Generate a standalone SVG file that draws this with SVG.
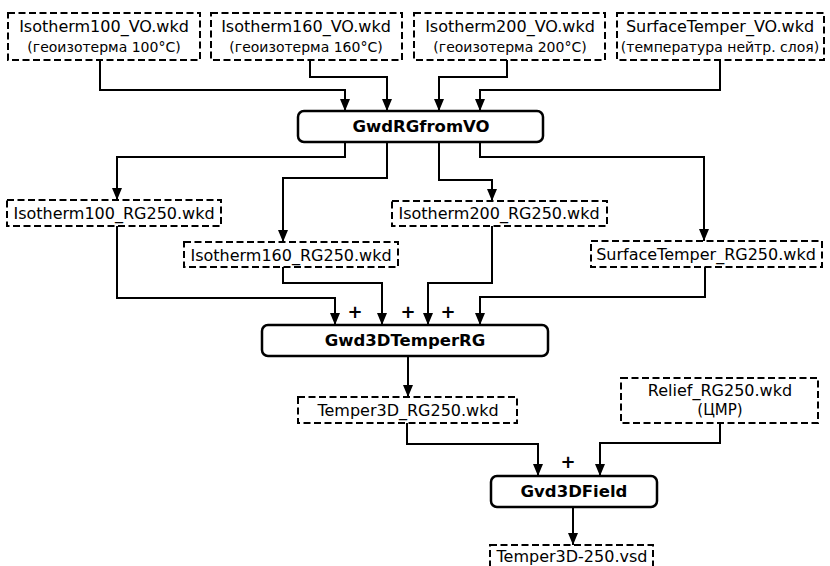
<svg xmlns="http://www.w3.org/2000/svg" width="830" height="566" viewBox="0 0 830 566">
  <style>
    .file { fill: #fff; stroke: #000; stroke-width: 2; stroke-dasharray: 7 3.5; }
    .proc { fill: #fff; stroke: #000; stroke-width: 2.5; }
    .t { font-family: "DejaVu Sans", Verdana, sans-serif; font-size: 16px; fill: #000; text-anchor: middle; }
    .s { font-family: "DejaVu Sans", Verdana, sans-serif; font-size: 14px; fill: #000; text-anchor: middle; }
    .b { font-family: "DejaVu Sans", Verdana, sans-serif; font-size: 16.5px; font-weight: bold; fill: #000; text-anchor: middle; }
    .plus { font-family: "DejaVu Sans", Verdana, sans-serif; font-size: 18px; font-weight: bold; fill: #000; text-anchor: middle; }
    .wire { fill: none; stroke: #000; stroke-width: 2; marker-end: url(#arrow); }
  </style>
  <defs>
    <marker id="arrow" markerUnits="userSpaceOnUse" markerWidth="12" markerHeight="10" refX="12" refY="5" orient="auto">
      <path d="M0,0 L12,5 L0,10 z" fill="#000"/>
    </marker>
  </defs>

  <!-- source grids (VO) -->
  <g id="iso100-vo">
    <rect class="file" x="8" y="13" width="192" height="47"/>
    <text class="t" x="104" y="32">Isotherm100_VO.wkd</text>
    <text class="s" x="104" y="52">(геоизотерма 100°C)</text>
  </g>
  <g id="iso160-vo">
    <rect class="file" x="211" y="13" width="191" height="47"/>
    <text class="t" x="306" y="32">Isotherm160_VO.wkd</text>
    <text class="s" x="306" y="52">(геоизотерма 160°C)</text>
  </g>
  <g id="iso200-vo">
    <rect class="file" x="414" y="13" width="191" height="47"/>
    <text class="t" x="510" y="32">Isotherm200_VO.wkd</text>
    <text class="s" x="510" y="52">(геоизотерма 200°C)</text>
  </g>
  <g id="surf-vo">
    <rect class="file" x="617" y="13" width="207" height="47"/>
    <text class="t" x="720" y="32">SurfaceTemper_VO.wkd</text>
    <text class="s" x="720" y="52">(температура нейтр. слоя)</text>
  </g>

  <!-- regridding step -->
  <g id="gwdrgfromvo">
    <rect class="proc" x="298" y="111" width="245" height="31" rx="6"/>
    <text class="b" x="421" y="132">GwdRGfromVO</text>
  </g>

  <!-- regridded grids (RG250) -->
  <g id="iso100-rg">
    <rect class="file" x="7" y="200" width="214" height="26"/>
    <text class="t" x="114" y="219">Isotherm100_RG250.wkd</text>
  </g>
  <g id="iso160-rg">
    <rect class="file" x="184" y="242" width="214" height="25"/>
    <text class="t" x="291" y="261">Isotherm160_RG250.wkd</text>
  </g>
  <g id="iso200-rg">
    <rect class="file" x="392" y="201" width="215" height="25"/>
    <text class="t" x="499" y="219">Isotherm200_RG250.wkd</text>
  </g>
  <g id="surf-rg">
    <rect class="file" x="591" y="241" width="231" height="26"/>
    <text class="t" x="706" y="260">SurfaceTemper_RG250.wkd</text>
  </g>

  <!-- 3D temperature model -->
  <g id="gwd3dtemperrg">
    <rect class="proc" x="262" y="325" width="286" height="31" rx="6"/>
    <text class="b" x="405" y="346">Gwd3DTemperRG</text>
  </g>
  <g id="temper3d-rg">
    <rect class="file" x="298" y="397" width="219" height="26"/>
    <text class="t" x="408" y="416">Temper3D_RG250.wkd</text>
  </g>
  <g id="relief-rg">
    <rect class="file" x="621" y="378" width="197" height="45"/>
    <text class="t" x="720" y="396">Relief_RG250.wkd</text>
    <text class="t" x="720" y="415" style="font-size:15px">(ЦМР)</text>
  </g>

  <!-- 3D field -->
  <g id="gvd3dfield">
    <rect class="proc" x="491" y="476" width="166" height="31" rx="6"/>
    <text class="b" x="574" y="497">Gvd3DField</text>
  </g>
  <g id="temper3d-vsd">
    <rect class="file" x="490" y="545" width="163" height="32"/>
    <text class="t" x="572" y="562">Temper3D-250.vsd</text>
  </g>

  <!-- connectors -->
  <g id="connectors">
    <path class="wire" d="M100,60 V90 H345 V111"/>
    <path class="wire" d="M310,60 V77 H387 V111"/>
    <path class="wire" d="M507,60 V77 H439 V111"/>
    <path class="wire" d="M720,60 V90 H480 V111"/>

    <path class="wire" d="M345,142 V157 H117 V200"/>
    <path class="wire" d="M387,142 V178 H283 V242"/>
    <path class="wire" d="M439,142 V180 H492 V201"/>
    <path class="wire" d="M480,142 V157 H704 V241"/>

    <path class="wire" d="M117,226 V298 H335 V325"/>
    <path class="wire" d="M283,267 V283 H382 V325"/>
    <path class="wire" d="M492,226 V283 H428 V325"/>
    <path class="wire" d="M705,267 V297 H480 V325"/>

    <path class="wire" d="M408,356 V397"/>

    <path class="wire" d="M407,423 V444 H538 V476"/>
    <path class="wire" d="M720,423 V443 H600 V476"/>

    <path class="wire" d="M573,507 V545"/>

    <text class="plus" x="355" y="318">+</text>
    <text class="plus" x="408" y="318">+</text>
    <text class="plus" x="448" y="318">+</text>
    <text class="plus" x="568" y="468">+</text>
  </g>
</svg>
